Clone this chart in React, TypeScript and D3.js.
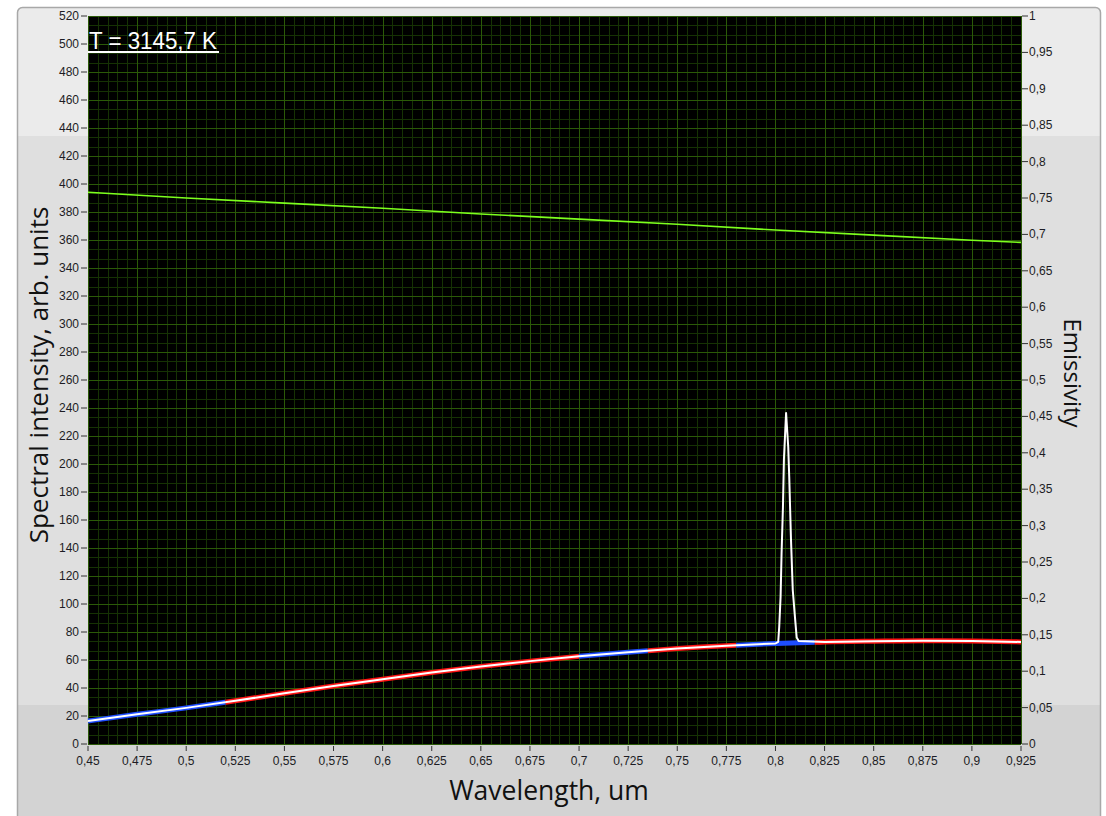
import React from "react";
import * as d3 from "d3";

// Wavelength grid (um) for the smooth spectrum
const wavelengths = [
  0.45, 0.475, 0.5, 0.525, 0.55, 0.575, 0.6, 0.625, 0.65, 0.675,
  0.7, 0.725, 0.75, 0.775, 0.8, 0.825, 0.85, 0.875, 0.9, 0.925,
];
// Spectral intensity (arb. units) along the wavelength grid
const intensity = [
  16.4, 21.2, 25.8, 30.9, 36.2, 41.4, 46.2, 51.0, 55.3, 59.2,
  62.6, 65.6, 68.2, 70.2, 71.8, 72.8, 73.4, 73.8, 73.6, 72.9,
];
// Narrow emission line riding on the measured spectrum
const peakWavelengths = [
  0.8014, 0.8019, 0.8026, 0.8031, 0.8038, 0.8043, 0.8054,
  0.8065, 0.807, 0.8079, 0.8088, 0.8099, 0.8108, 0.8118,
];
const peakIntensity = [
  73.0, 83.6, 105, 136, 169, 203, 236.4,
  212, 191, 146, 110, 91, 76, 73.5,
];
// Emissivity curve
const emissivityWl = [0.45, 0.5, 0.55, 0.6, 0.65, 0.7, 0.75, 0.8, 0.85, 0.9, 0.925];
const emissivity = [0.758, 0.75, 0.743, 0.736, 0.728, 0.721, 0.714, 0.706, 0.699, 0.692, 0.689];
// Fit-band colouring by wavelength range
const bandStarts = [0.45, 0.52, 0.7, 0.735, 0.78, 0.82];
const bandEnds = [0.52, 0.7, 0.735, 0.78, 0.82, 0.925];
const bandColors = ["#1e4dff", "#ff1414", "#1e4dff", "#ff1414", "#1e4dff", "#ff1414"];

// Axis ticks
const xTicks = [
  0.45, 0.475, 0.5, 0.525, 0.55, 0.575, 0.6, 0.625, 0.65, 0.675,
  0.7, 0.725, 0.75, 0.775, 0.8, 0.825, 0.85, 0.875, 0.9, 0.925,
];
const yLeftTicks = d3.range(0, 521, 20);
const yRightTicks = d3.range(0, 21).map((i) => i * 0.05);

const temperatureLabel = "T = 3145,7 K";

const W = 1106;
const H = 816;
const plot = { left: 88, right: 1021, top: 16, bottom: 744 };

const fmt = (v: number) => {
  const s = String(+v.toFixed(3));
  return s.replace(".", ",");
};

export default function App() {
  const x = d3.scaleLinear().domain([0.45, 0.925]).range([plot.left, plot.right]);
  const yL = d3.scaleLinear().domain([0, 520]).range([plot.bottom, plot.top]);
  const yR = d3.scaleLinear().domain([0, 1]).range([plot.bottom, plot.top]);

  const base = wavelengths.map((w, i) => [w, intensity[i]] as [number, number]);
  const interp = (w: number) => {
    const i = Math.min(d3.bisectRight(wavelengths, w), wavelengths.length - 1);
    const i0 = Math.max(i - 1, 0);
    const t = (w - wavelengths[i0]) / (wavelengths[i] - wavelengths[i0] || 1);
    return intensity[i0] + t * (intensity[i] - intensity[i0]);
  };
  const measured = [
    ...base.filter((d) => d[0] < 0.8 || d[0] > 0.812),
    ...peakWavelengths.map((w, i) => [w, peakIntensity[i]] as [number, number]),
    [0.8, 71.8] as [number, number],
  ].sort((a, b) => a[0] - b[0]);

  const smooth = d3
    .line<[number, number]>()
    .x((d) => x(d[0]))
    .y((d) => yL(d[1]))
    .curve(d3.curveMonotoneX);
  const straight = d3
    .line<[number, number]>()
    .x((d) => x(d[0]))
    .y((d) => yL(d[1]));
  const lineR = d3
    .line<[number, number]>()
    .x((d) => x(d[0]))
    .y((d) => yR(d[1]));

  const bandPath = (a: number, b: number) => {
    const pts: [number, number][] = [[a, interp(a)]];
    wavelengths.forEach((w, i) => {
      if (w > a && w < b) pts.push([w, intensity[i]]);
    });
    pts.push([b, interp(b)]);
    return smooth(pts) || "";
  };

  const minorX = d3.range(0, 95 + 1).map((i) => 0.45 + i * 0.005);
  const minorY = d3.range(0, 78 + 1).map((i) => (i * 20) / 3);

  const tickFont = "'Liberation Sans', Arial, sans-serif";
  const titleFont = "'Open Sans', 'Noto Sans', sans-serif";

  return (
    <div style={{ position: "absolute", left: 0, top: 0 }}>
      <svg width={W} height={H} style={{ display: "block" }}>
        <rect x={0} y={0} width={W} height={H} fill="#ffffff" />
        {/* panel */}
        <clipPath id="panelClip">
          <rect x={17} y={7} width={1084} height={H} rx={5} />
        </clipPath>
        <g clipPath="url(#panelClip)">
          <rect x={17} y={7} width={1084} height={129} fill="#ebebeb" />
          <rect x={17} y={136} width={1084} height={569} fill="#dfdfdf" />
          <rect x={17} y={705} width={1084} height={120} fill="#d3d3d3" />
        </g>
        <rect x={17.5} y={7.5} width={1083} height={H} rx={5} fill="none" stroke="#a8a8a8" strokeWidth={1.5} />

        {/* plot background */}
        <rect
          x={plot.left}
          y={plot.top}
          width={plot.right - plot.left}
          height={plot.bottom - plot.top}
          fill="#000000"
        />
        {/* minor grid */}
        <g stroke="#163204" strokeWidth={1}>
          {minorX.map((v, i) => (
            <line key={"mx" + i} x1={Math.round(x(v)) + 0.5} x2={Math.round(x(v)) + 0.5} y1={plot.top} y2={plot.bottom} />
          ))}
          {minorY.map((v, i) => (
            <line key={"my" + i} y1={Math.round(yL(v)) + 0.5} y2={Math.round(yL(v)) + 0.5} x1={plot.left} x2={plot.right} />
          ))}
        </g>
        {/* major grid */}
        <g stroke="#2b5a08" strokeWidth={1}>
          {xTicks.map((v, i) => (
            <line key={"gx" + i} x1={Math.round(x(v)) + 0.5} x2={Math.round(x(v)) + 0.5} y1={plot.top} y2={plot.bottom} />
          ))}
          {yLeftTicks.map((v, i) => (
            <line key={"gy" + i} y1={Math.round(yL(v)) + 0.5} y2={Math.round(yL(v)) + 0.5} x1={plot.left} x2={plot.right} />
          ))}
        </g>

        {/* emissivity */}
        <path
          d={lineR(emissivityWl.map((w, i) => [w, emissivity[i]] as [number, number])) || ""}
          fill="none"
          stroke="#7dff1e"
          strokeWidth={1.6}
        />

        {/* fit band */}
        <g fill="none" strokeWidth={5} strokeLinecap="butt">
          {bandStarts.map((a, i) => (
            <path key={"band" + i} d={bandPath(a, bandEnds[i])} stroke={bandColors[i]} />
          ))}
        </g>
        {/* measured spectrum */}
        <path d={straight(measured) || ""} fill="none" stroke="#ffffff" strokeWidth={2} strokeLinejoin="round" />

        {/* temperature label */}
        <text
          x={89}
          y={49}
          fill="#ffffff"
          fontFamily={tickFont}
          fontSize={24}
          textLength={128}
          lengthAdjust="spacingAndGlyphs"
        >
          {temperatureLabel}
        </text>
        <line x1={88} x2={219} y1={52} y2={52} stroke="#ffffff" strokeWidth={2} />

        {/* left axis */}
        <g fontFamily={tickFont} fontSize={12} fill="#1c1c24">
          {yLeftTicks.map((v, i) => (
            <g key={"yl" + i}>
              <line x1={81} x2={87} y1={yL(v)} y2={yL(v)} stroke="#333" strokeWidth={1} />
              <text x={79} y={yL(v)} textAnchor="end" dominantBaseline="central">
                {fmt(v)}
              </text>
            </g>
          ))}
        </g>
        {/* right axis */}
        <g fontFamily={tickFont} fontSize={12} fill="#1c1c24">
          {yRightTicks.map((v, i) => (
            <g key={"yr" + i}>
              <line x1={1022} x2={1028} y1={yR(v)} y2={yR(v)} stroke="#333" strokeWidth={1} />
              <text x={1029} y={yR(v)} textAnchor="start" dominantBaseline="central">
                {fmt(v)}
              </text>
            </g>
          ))}
        </g>
        {/* bottom axis */}
        <g fontFamily={tickFont} fontSize={12} fill="#1c1c24">
          {xTicks.map((v, i) => (
            <g key={"xb" + i}>
              <line x1={x(v)} x2={x(v)} y1={746} y2={751} stroke="#333" strokeWidth={1} />
              <text x={x(v)} y={761} textAnchor="middle" dominantBaseline="central">
                {fmt(v)}
              </text>
            </g>
          ))}
        </g>

        {/* axis titles */}
        <text
          transform="translate(48,375) rotate(-90)"
          textAnchor="middle"
          fontFamily={titleFont}
          fontSize={26}
          fill="#111"
        >
          Spectral intensity, arb. units
        </text>
        <text
          transform="translate(1064,373) rotate(90)"
          textAnchor="middle"
          fontFamily={titleFont}
          fontSize={24}
          fill="#111"
        >
          Emissivity
        </text>
        <text x={549} y={800} textAnchor="middle" fontFamily={titleFont} fontSize={26.5} fill="#111">
          Wavelength, um
        </text>
      </svg>
    </div>
  );
}
